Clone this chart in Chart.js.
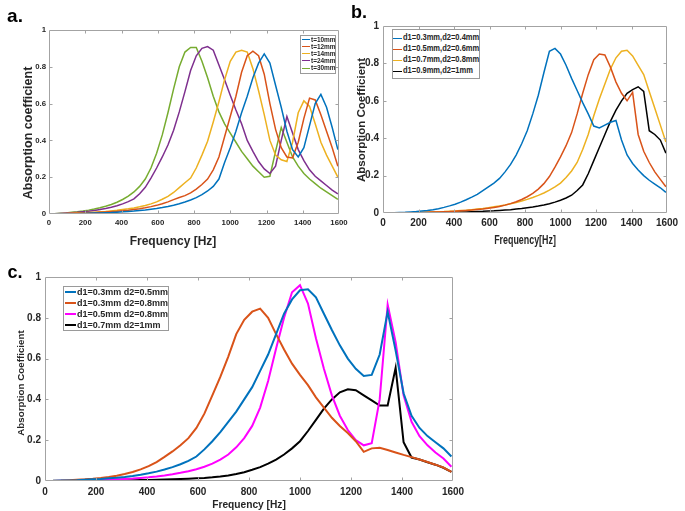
<!DOCTYPE html>
<html><head><meta charset="utf-8">
<script src="https://cdn.jsdelivr.net/npm/chart.js@4.4.1/dist/chart.umd.min.js"></script>
<style>
html,body{margin:0;padding:0;background:#fff;}
#wrap{position:relative;width:685px;height:511px;overflow:hidden;background:#fff;}
canvas{position:absolute;left:0;top:0;}
.t{position:absolute;white-space:nowrap;font-weight:bold;color:#262626;line-height:1;}
.lg{position:absolute;background:#fff;border:1px solid #9a9a9a;box-sizing:border-box;}
.lg .ln{position:absolute;height:0;}
.lg .tx{position:absolute;white-space:nowrap;font-weight:bold;color:#262626;line-height:1;transform-origin:0 50%;}
</style></head>
<body><div id="wrap">
<canvas id="ca" width="685" height="511"></canvas>
<canvas id="cb" width="685" height="511"></canvas>
<canvas id="cc" width="685" height="511"></canvas>
</div>
<script>
// ---------- data ----------
const freq = [31.25,62.5,93.75,125,156.25,187.5,218.75,250,281.25,312.5,
343.75,375,406.25,437.5,468.75,500,531.25,562.5,593.75,625,
656.25,687.5,718.75,750,781.25,812.5,843.75,875,906.25,937.5,
968.75,1000,1031.25,1062.5,1093.75,1125,1156.25,1187.5,1218.75,1250,
1281.25,1312.5,1343.75,1375,1406.25,1437.5,1468.75,1500,1531.25,1562.5,1593.75];

const xTicks = [0,200,400,600,800,1000,1200,1400,1600];
const yTicks = [0,0.2,0.4,0.6,0.8,1];

// panel a
const labelsA = ["t=10mm","t=12mm","t=14mm","t=24mm","t=30mm"];
const a_t10 = [0.0005,0.001,0.001,0.002,0.002,0.003,0.004,0.005,0.006,0.007,
0.008,0.010,0.012,0.014,0.016,0.019,0.022,0.026,0.030,0.035,
0.041,0.048,0.056,0.065,0.076,0.089,0.105,0.125,0.15,0.19,
0.28,0.36,0.45,0.55,0.64,0.74,0.82,0.87,0.82,0.70,
0.58,0.45,0.35,0.31,0.36,0.48,0.60,0.65,0.58,0.47,0.35];
const a_t12 = [0.001,0.001,0.002,0.003,0.004,0.005,0.006,0.007,0.009,0.011,
0.013,0.015,0.018,0.021,0.025,0.029,0.034,0.040,0.047,0.056,
0.066,0.078,0.090,0.10,0.115,0.135,0.16,0.19,0.24,0.31,
0.42,0.53,0.64,0.77,0.86,0.885,0.86,0.76,0.60,0.46,
0.36,0.31,0.305,0.39,0.52,0.63,0.62,0.54,0.45,0.36,0.26];
const a_t14 = [0.001,0.002,0.003,0.004,0.005,0.006,0.008,0.010,0.012,0.014,
0.017,0.020,0.024,0.028,0.033,0.039,0.046,0.055,0.066,0.08,
0.096,0.117,0.143,0.17,0.195,0.25,0.32,0.395,0.50,0.61,
0.73,0.83,0.88,0.89,0.88,0.79,0.67,0.54,0.40,0.32,
0.295,0.285,0.39,0.55,0.615,0.585,0.49,0.39,0.32,0.26,0.20];
const a_t24 = [0.001,0.003,0.005,0.007,0.009,0.012,0.015,0.019,0.024,0.030,
0.037,0.045,0.055,0.067,0.082,0.11,0.145,0.195,0.25,0.31,
0.375,0.455,0.555,0.665,0.78,0.86,0.90,0.91,0.89,0.81,
0.73,0.645,0.565,0.49,0.40,0.34,0.285,0.245,0.22,0.26,
0.40,0.53,0.44,0.35,0.29,0.24,0.205,0.18,0.155,0.13,0.11];
const a_t30 = [0.002,0.004,0.006,0.009,0.012,0.016,0.021,0.027,0.034,0.042,
0.052,0.064,0.079,0.097,0.12,0.15,0.19,0.25,0.33,0.43,
0.55,0.68,0.80,0.88,0.905,0.905,0.83,0.74,0.64,0.555,
0.49,0.44,0.39,0.34,0.30,0.26,0.23,0.20,0.205,0.34,
0.47,0.39,0.31,0.26,0.22,0.19,0.165,0.14,0.12,0.10,0.08];

// panel b
const labelsB = ["d1=0.3mm,d2=0.4mm","d1=0.5mm,d2=0.6mm","d1=0.7mm,d2=0.8mm","d1=0.9mm,d2=1mm"];
const b_1 = [0.001,0.002,0.003,0.004,0.006,0.008,0.011,0.014,0.018,0.023,
0.030,0.038,0.047,0.058,0.071,0.085,0.10,0.12,0.14,0.16,
0.185,0.22,0.26,0.31,0.37,0.44,0.53,0.63,0.75,0.865,
0.88,0.85,0.79,0.72,0.655,0.59,0.53,0.465,0.455,0.47,
0.485,0.495,0.39,0.31,0.265,0.23,0.20,0.175,0.155,0.135,0.11];
const b_2 = [0.0005,0.001,0.001,0.002,0.002,0.003,0.003,0.004,0.005,0.006,
0.007,0.008,0.010,0.012,0.014,0.016,0.019,0.022,0.026,0.030,
0.035,0.042,0.050,0.060,0.072,0.087,0.105,0.128,0.157,0.195,
0.245,0.30,0.36,0.43,0.53,0.64,0.74,0.82,0.85,0.845,
0.78,0.70,0.64,0.60,0.645,0.42,0.33,0.27,0.22,0.18,0.14];
const b_3 = [0.0005,0.001,0.001,0.002,0.002,0.003,0.004,0.005,0.006,0.007,
0.008,0.010,0.011,0.013,0.015,0.018,0.021,0.024,0.028,0.033,
0.038,0.043,0.049,0.056,0.064,0.073,0.083,0.094,0.107,0.122,
0.14,0.16,0.19,0.225,0.27,0.34,0.42,0.52,0.61,0.69,
0.77,0.83,0.865,0.87,0.84,0.79,0.74,0.65,0.56,0.47,0.38];
const b_4 = [0.0003,0.0005,0.001,0.001,0.001,0.002,0.002,0.002,0.003,0.003,
0.004,0.004,0.005,0.006,0.006,0.007,0.008,0.009,0.011,0.012,
0.014,0.016,0.018,0.021,0.024,0.028,0.032,0.037,0.043,0.050,
0.058,0.068,0.08,0.095,0.12,0.15,0.21,0.28,0.35,0.42,
0.49,0.55,0.60,0.64,0.66,0.675,0.65,0.44,0.42,0.39,0.32];

// panel c
const labelsC = ["d1=0.3mm d2=0.5mm","d1=0.3mm d2=0.8mm","d1=0.5mm d2=0.8mm","d1=0.7mm d2=1mm"];
const c_1 = [0.001,0.002,0.003,0.004,0.006,0.008,0.010,0.013,0.016,0.020,
0.025,0.031,0.038,0.046,0.056,0.068,0.082,0.099,0.12,0.155,
0.195,0.24,0.29,0.34,0.40,0.46,0.54,0.62,0.72,0.82,
0.89,0.935,0.94,0.90,0.82,0.74,0.665,0.60,0.55,0.515,
0.52,0.62,0.83,0.64,0.43,0.32,0.26,0.22,0.19,0.16,0.12];
const c_2 = [0.001,0.002,0.004,0.006,0.008,0.011,0.015,0.020,0.026,0.034,
0.044,0.057,0.073,0.093,0.118,0.145,0.175,0.21,0.26,0.33,
0.42,0.51,0.61,0.72,0.79,0.83,0.845,0.80,0.72,0.645,
0.575,0.52,0.47,0.41,0.36,0.31,0.27,0.235,0.195,0.143,
0.16,0.163,0.152,0.14,0.128,0.117,0.105,0.093,0.08,0.066,0.045];
const c_3 = [0.0005,0.001,0.0015,0.002,0.003,0.004,0.005,0.006,0.008,0.010,
0.012,0.015,0.018,0.022,0.027,0.033,0.040,0.048,0.058,0.07,
0.085,0.105,0.13,0.165,0.21,0.27,0.36,0.49,0.65,0.80,
0.925,0.96,0.87,0.70,0.55,0.42,0.32,0.25,0.20,0.175,
0.185,0.40,0.865,0.68,0.42,0.29,0.22,0.175,0.14,0.11,0.07];
const c_4 = [0.0002,0.0004,0.0006,0.0008,0.001,0.0013,0.0016,0.002,0.0025,0.003,
0.0036,0.0043,0.005,0.006,0.007,0.008,0.0095,0.011,0.013,0.015,
0.018,0.022,0.027,0.034,0.043,0.055,0.068,0.085,0.105,0.13,
0.16,0.195,0.245,0.30,0.355,0.40,0.435,0.45,0.445,0.42,
0.395,0.37,0.37,0.555,0.19,0.115,0.105,0.092,0.08,0.065,0.045];

// ---------- styling ----------
const REG = '"Liberation Sans",Arial,sans-serif';
const W = 685, H = 511;

const boxPlugin = {
  id: 'box',
  afterDraw(chart, args, opts) {
    const {ctx, chartArea: a, scales: {x, y}} = chart;
    const L = Math.round(a.left) + 0.5, R = Math.round(a.right) - 0.5;
    const T = Math.round(a.top) + 0.5, B = Math.round(a.bottom) - 0.5;
    ctx.save();
    ctx.strokeStyle = opts.color; ctx.lineWidth = 1;
    ctx.beginPath();
    ctx.rect(L, T, R - L, B - T);
    const tl = opts.tick;
    x.ticks.forEach(t => {
      const px = Math.round(x.getPixelForValue(t.value)) + 0.5;
      if (px <= L + 1 || px >= R - 1) return;
      ctx.moveTo(px, B); ctx.lineTo(px, B - tl);
      ctx.moveTo(px, T); ctx.lineTo(px, T + tl);
    });
    y.ticks.forEach(t => {
      const py = Math.round(y.getPixelForValue(t.value)) + 0.5;
      if (py <= T + 1 || py >= B - 1) return;
      ctx.moveTo(L, py); ctx.lineTo(L + tl, py);
      ctx.moveTo(R, py); ctx.lineTo(R - tl, py);
    });
    ctx.stroke();
    ctx.restore();
  }
};

function makeChart(id, cfg) {
  const datasets = cfg.series.map((vals, i) => ({
    label: cfg.labels[i],
    data: vals.map((v, j) => ({x: freq[j], y: v})),
    borderColor: cfg.colors[i],
    borderWidth: cfg.lw,
    pointRadius: 0, tension: 0, fill: false
  }));
  const tickFont = {family: REG, size: cfg.tickSize, weight: 'bold'};
  return new Chart(document.getElementById(id), {
    type: 'line',
    data: {datasets},
    options: {
      responsive: false, animation: false, devicePixelRatio: 1,
      layout: {padding: {left: 0, top: cfg.area.top, right: W - cfg.area.right, bottom: 0}},
      plugins: {legend: {display: false}, tooltip: {enabled: false},
        box: {color: '#a3a3a3', tick: 3}},
      scales: {
        x: {
          type: 'linear', min: 0, max: 1600,
          grid: {display: false, drawTicks: false}, border: {display: false},
          afterBuildTicks: s => { s.ticks = xTicks.map(v => ({value: v})); },
          ticks: {padding: cfg.xpad, font: tickFont, color: '#262626', maxRotation: 0, autoSkip: false,
            callback: v => String(v)},
          afterFit: s => { s.height = H - cfg.area.bottom; s.paddingLeft = 0; s.paddingRight = 0; }
        },
        y: {
          type: 'linear', min: 0, max: 1,
          grid: {display: false, drawTicks: false}, border: {display: false},
          afterBuildTicks: s => { s.ticks = yTicks.map(v => ({value: v})); },
          ticks: {padding: cfg.ypad, font: tickFont, color: '#262626', autoSkip: false,
            callback: v => String(v)},
          afterFit: s => { s.width = cfg.area.left; s.paddingTop = 0; s.paddingBottom = 0; }
        }
      }
    },
    plugins: [boxPlugin]
  });
}

const colorsA = ['#0072BD','#D95319','#EDB120','#7E2F8E','#77AC30'];
const colorsB = ['#0072BD','#D95319','#EDB120','#000000'];
const colorsC = ['#0072BD','#D95319','#FF00FF','#000000'];

makeChart('ca', {series: [a_t10,a_t12,a_t14,a_t24,a_t30], labels: labelsA, colors: colorsA, lw: 1.5,
  area: {left: 49, right: 339, top: 30, bottom: 214}, tickSize: 7.8, xpad: 4, ypad: 3});
makeChart('cb', {series: [b_1,b_2,b_3,b_4], labels: labelsB, colors: colorsB, lw: 1.5,
  area: {left: 383, right: 667, top: 26, bottom: 213}, tickSize: 10, xpad: 4, ypad: 4});
makeChart('cc', {series: [c_1,c_2,c_3,c_4], labels: labelsC, colors: colorsC, lw: 2,
  area: {left: 45, right: 453, top: 277, bottom: 481}, tickSize: 10, xpad: 5, ypad: 4});

// ---------- text overlays ----------
const wrap = document.getElementById('wrap');
function text(str, cx, cy, size, rot, sx, color) {
  const d = document.createElement('div');
  d.className = 't';
  d.textContent = str;
  d.style.fontFamily = REG;
  d.style.fontSize = size + 'px';
  if (color) d.style.color = color;
  d.style.left = cx + 'px'; d.style.top = cy + 'px';
  d.style.transform = 'translate(-50%,-50%)' + (rot ? ' rotate(-90deg)' : '') + ' scaleX(' + sx + ')';
  wrap.appendChild(d);
}
text('a.', 15, 15, 19, false, 1, '#000');
text('b.', 359, 12, 18, false, 1, '#000');
text('c.', 15, 272, 18, false, 1, '#000');

text('Frequency [Hz]', 173, 241, 12, false, 1);
text('Absorption coefficient', 27.5, 133, 12.5, true, 1);
text('Frequency[Hz]', 525, 240, 12, false, 0.74);
text('Absorption Coefficient', 362, 119.5, 11.5, true, 1);
text('Frequency [Hz]', 249, 505, 10.2, false, 1);
text('Absorption Coefficient', 21, 383, 9.8, true, 1);

function legend(labels, colors, box, rows, lineX0, lineX1, textX, size, sx, lw) {
  const d = document.createElement('div');
  d.className = 'lg';
  d.style.left = box.x + 'px'; d.style.top = box.y + 'px';
  d.style.width = box.w + 'px'; d.style.height = box.h + 'px';
  labels.forEach((lab, i) => {
    const ln = document.createElement('div');
    ln.className = 'ln';
    ln.style.left = (lineX0 - box.x - 1) + 'px';
    ln.style.width = (lineX1 - lineX0) + 'px';
    ln.style.top = (rows[i] - box.y - 1 - lw / 2) + 'px';
    ln.style.borderTop = lw + 'px solid ' + colors[i];
    d.appendChild(ln);
    const tx = document.createElement('div');
    tx.className = 'tx';
    tx.textContent = lab;
    tx.style.left = (textX - box.x - 1) + 'px';
    tx.style.top = (rows[i] - box.y - 1) + 'px';
    tx.style.fontFamily = REG; tx.style.fontSize = size + 'px';
    tx.style.transform = 'translateY(-50%) scaleX(' + sx + ')';
    d.appendChild(tx);
  });
  wrap.appendChild(d);
}
legend(labelsA, colorsA, {x: 300, y: 35, w: 36, h: 39}, [39.5, 46.7, 53.9, 61.1, 68.3], 302, 310, 311, 7.6, 0.85, 1.5);
legend(labelsB, colorsB, {x: 392, y: 29, w: 88, h: 50}, [38.3, 49.3, 60.3, 71.3], 393, 402, 403, 9.2, 0.82, 1.5);
legend(labelsC, colorsC, {x: 63, y: 285.5, w: 106, h: 45}, [291.5, 302.8, 314.1, 325.4], 65, 76, 77, 9, 1, 2);
</script>
</body></html>
